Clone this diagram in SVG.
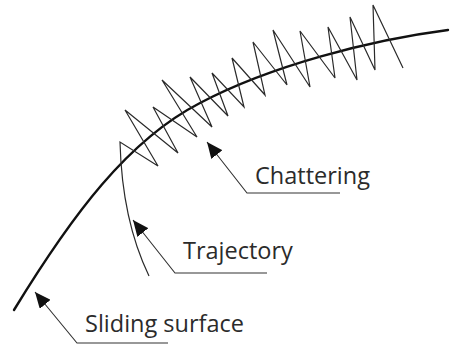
<svg xmlns="http://www.w3.org/2000/svg" width="461" height="347" viewBox="0 0 461 347">
<style>
.surf{fill:none;stroke:#111;stroke-width:2.4;stroke-linecap:round}
.traj{fill:none;stroke:#2a2a2a;stroke-width:1.2;stroke-linejoin:miter}
.lead{fill:none;stroke:#333;stroke-width:1.1}
.lbl{font-family:"Open Sans","Noto Sans",sans-serif;font-size:23.5px;fill:#2b2b2b}
</style>
<defs>
<marker id="ah" markerUnits="userSpaceOnUse" markerWidth="16" markerHeight="14" viewBox="0 0 16 14" refX="16" refY="7" orient="auto">
<path d="M0,0 L16,7 L0,14 z" fill="#111"/>
</marker>
</defs>
<g id="sliding-surface">
<path class="surf" d="M14,310 C72,215 128,140 200,103 C270,66 370,40 448,30"/>
</g>
<g id="trajectory">
<path class="traj" d="M149,276 Q122,220 120,142 L158,166 L125,110 L178,153 L153,107 L197,137 L162,80 L212,127 L190,77 L228,116 L212,73 L244,107 L232,58 L265,95 L253,42 L287,85 L273,30 L310,87 L300,31 L335,78 L328,27 L357,80 L350,17 L375,70 L373,5 L403,68"/>
</g>
<g id="connectors">
<path class="lead" d="M340,193 L247,193 L207,142" marker-end="url(#ah)"/>
<path class="lead" d="M267,273 L175,273 L133,220" marker-end="url(#ah)"/>
<path class="lead" d="M168,343 L77,343 L35,292" marker-end="url(#ah)"/>
</g>
<g id="label-chattering"><text class="lbl" x="255" y="184">Chattering</text></g>
<g id="label-trajectory"><text class="lbl" x="183" y="259">Trajectory</text></g>
<g id="label-sliding"><text class="lbl" x="85" y="332">Sliding surface</text></g>
</svg>
